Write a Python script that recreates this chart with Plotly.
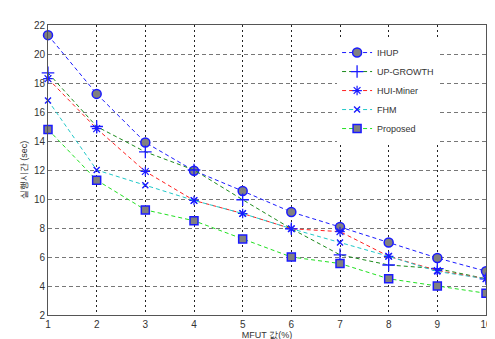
import plotly.graph_objects as go

x_vals = [1, 2, 3, 4, 5, 6, 7, 8, 9, 10]
ihup = [21.3, 17.25, 13.9, 11.95, 10.55, 9.1, 8.07, 7.0, 5.93, 5.02]
up_growth = [18.7, 15.0, 13.25, 12.0, 9.95, 7.95, 6.15, 5.45, 5.2, 4.5]
hui_miner = [18.3, 14.85, 11.9, 9.9, 9.0, 7.95, 7.75, 6.05, 5.07, 4.5]
fhm = [16.8, 12.0, 10.95, 9.9, 9.0, 7.95, 7.0, 6.05, 5.0, 4.5]
proposed = [14.8, 11.3, 9.25, 8.5, 7.25, 6.0, 5.55, 4.5, 4.0, 3.5]

x_ticks = list(range(1, 11))
y_ticks = list(range(2, 23, 2))

fig = go.Figure()

series = [
    ("IHUP", ihup, "#1a1aff", dict(symbol="circle", size=9, color="#808080",
                                    line=dict(color="#1a1aff", width=1.5))),
    ("UP-GROWTH", up_growth, "#1a8a1a", dict(symbol="cross-thin", size=9, color="#1a1aff",
                                             line=dict(color="#1a1aff", width=1.3))),
    ("HUI-Miner", hui_miner, "#ff2020", dict(symbol="asterisk", size=8, color="#1a1aff",
                                             line=dict(color="#1a1aff", width=1.2))),
    ("FHM", fhm, "#20c8c8", dict(symbol="x-thin", size=6, color="#1a1aff",
                                 line=dict(color="#1a1aff", width=1.4))),
    ("Proposed", proposed, "#20e020", dict(symbol="square", size=8, color="#808080",
                                           line=dict(color="#1a1aff", width=1.5))),
]

for name, vals, col, mk in series:
    fig.add_trace(go.Scatter(
        x=x_vals, y=vals, name=name, mode="lines+markers",
        line=dict(color=col, width=1, dash="4px,3px"),
        marker=mk, cliponaxis=False,
    ))

fig.update_layout(
    width=495, height=339,
    margin=dict(l=40, r=11, t=11, b=28),
    paper_bgcolor="white", plot_bgcolor="white",
    font=dict(family="Liberation Sans, Arial, sans-serif", size=9, color="#333333"),
    showlegend=True,
    legend=dict(x=0.66, y=0.955, xanchor="left", yanchor="top",
                bgcolor="rgba(255,255,255,1)", borderwidth=0,
                font=dict(size=9, color="#333333"),
                itemwidth=30, tracegroupgap=0),
    xaxis=dict(
        range=[1, 10], tickvals=x_ticks, ticks="", showgrid=True,
        gridcolor="#222222", griddash="2px,3px", gridwidth=1,
        showline=True, linecolor="#555555", linewidth=1, mirror=True,
        zeroline=False, tickfont=dict(size=10),
        title=dict(text="MFUT 값(%)", standoff=0, font=dict(size=9)),
    ),
    yaxis=dict(
        range=[2, 22], tickvals=y_ticks, ticks="", showgrid=True,
        gridcolor="#777777", griddash="4px,3px", gridwidth=1,
        showline=True, linecolor="#555555", linewidth=1, mirror=True,
        zeroline=False, tickfont=dict(size=10),
        title=dict(text="실행시간 (sec)", standoff=4, font=dict(size=9)),
    ),
)

fig.write_html("out.html")
